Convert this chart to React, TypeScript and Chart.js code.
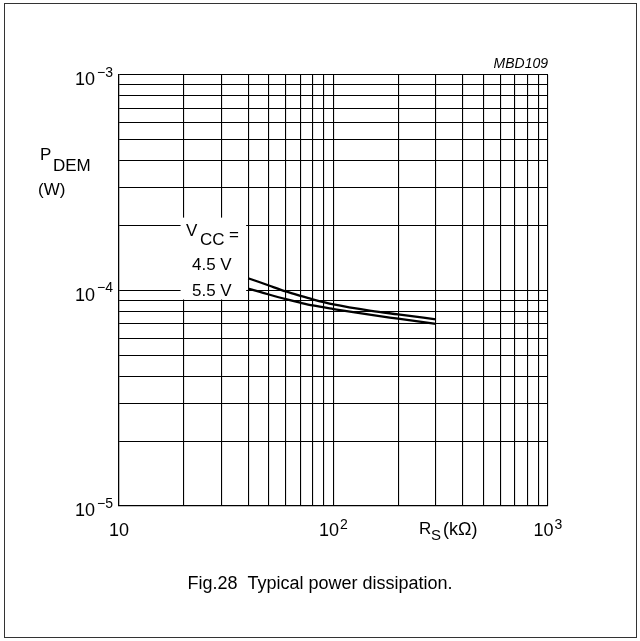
import React, { useEffect, useRef } from "react";
import { Chart, registerables } from "chart.js";

Chart.register(...registerables);

// Data
const rsValues = [40, 45, 50, 60, 70, 80, 100, 150, 200, 300]; // kΩ
const pdemVcc45 = [1.14e-4, 1.095e-4, 1.055e-4, 0.99e-4, 0.945e-4, 0.91e-4, 0.862e-4, 0.805e-4, 0.775e-4, 0.735e-4];
const pdemVcc55 = [1.02e-4, 0.987e-4, 0.958e-4, 0.912e-4, 0.878e-4, 0.852e-4, 0.82e-4, 0.77e-4, 0.74e-4, 0.7e-4];

const xGridTicks = [10, 20, 30, 40, 50, 60, 70, 80, 90, 100, 200, 300, 400, 500, 600, 700, 800, 900, 1000];
const yGridTicks = [
  1e-5, 2e-5, 3e-5, 4e-5, 5e-5, 6e-5, 7e-5, 8e-5, 9e-5,
  1e-4, 2e-4, 3e-4, 4e-4, 5e-4, 6e-4, 7e-4, 8e-4, 9e-4, 1e-3,
];
const xTickValues = [10, 100, 1000];
const xTickExponents = ["", "2", "3"];
const yTickValues = [1e-3, 1e-4, 1e-5];
const yTickExponents = ["\u22123", "\u22124", "\u22125"];

const FONT = '"Liberation Sans", Arial, Helvetica, sans-serif';

const labelPlugin = {
  id: "labels",
  beforeDatasetsDraw(chart: any) {
    const ctx = chart.ctx;
    const xs = chart.scales.x;
    const ys = chart.scales.y;
    // white box behind the V_CC legend labels
    const x20 = xs.getPixelForValue(20);
    const x40 = xs.getPixelForValue(40);
    const y2e4 = ys.getPixelForValue(2e-4);
    const y1e4 = ys.getPixelForValue(1e-4);
    ctx.save();
    ctx.fillStyle = "#fff";
    ctx.fillRect(x20 - 3, y2e4 - 8, x40 - 2 - (x20 - 3), y1e4 + 9 - (y2e4 - 8));
    ctx.restore();
  },
  afterDraw(chart: any) {
    const ctx = chart.ctx;
    const xs = chart.scales.x;
    const ys = chart.scales.y;
    ctx.save();
    ctx.fillStyle = "#000";
    ctx.textBaseline = "alphabetic";

    // y tick labels
    yTickValues.forEach((v, i) => {
      const py = ys.getPixelForValue(v);
      ctx.font = `18px ${FONT}`;
      ctx.textAlign = "right";
      ctx.fillText("10", 95, py + 10);
      ctx.font = `14px ${FONT}`;
      ctx.textAlign = "left";
      ctx.fillText(yTickExponents[i], 97, py + 1.5);
    });

    // x tick labels
    xTickValues.forEach((v, i) => {
      const px = xs.getPixelForValue(v);
      const exp = xTickExponents[i];
      ctx.font = `18px ${FONT}`;
      const wb = ctx.measureText("10").width;
      ctx.font = `14px ${FONT}`;
      const we = exp ? ctx.measureText(exp).width + 1 : 0;
      const start = px - (wb + we) / 2;
      ctx.textAlign = "left";
      ctx.font = `18px ${FONT}`;
      ctx.fillText("10", start, 536);
      if (exp) {
        ctx.font = `14px ${FONT}`;
        ctx.fillText(exp, start + wb + 1, 529);
      }
    });

    // x axis title R_S (kΩ)
    ctx.textAlign = "left";
    ctx.font = `17px ${FONT}`;
    ctx.fillText("R", 419, 534);
    ctx.font = `15px ${FONT}`;
    ctx.fillText("S", 431, 540);
    ctx.font = `18px ${FONT}`;
    ctx.fillText("(k\u03A9)", 443, 535);

    // y axis title P_DEM (W)
    ctx.font = `17px ${FONT}`;
    ctx.fillText("P", 40, 160);
    ctx.fillText("DEM", 53, 171);
    ctx.fillText("(W)", 38, 195);

    // V_CC legend
    ctx.font = `17px ${FONT}`;
    ctx.fillText("V", 186, 236);
    ctx.fillText("CC", 200, 245);
    ctx.fillText("=", 229, 240);
    ctx.fillText("4.5 V", 192, 270);
    ctx.fillText("5.5 V", 192, 296);

    // code label
    ctx.font = `italic 14px ${FONT}`;
    ctx.textAlign = "right";
    ctx.fillText("MBD109", xs.right, 68);

    // caption
    ctx.font = `18px ${FONT}`;
    ctx.textAlign = "center";
    ctx.fillText("Fig.28  Typical power dissipation.", 320, 589);
    ctx.restore();
  },
};

export default function App() {
  const canvasRef = useRef<HTMLCanvasElement | null>(null);

  useEffect(() => {
    document.body.style.margin = "0";
    const canvas = canvasRef.current;
    if (!canvas) return;
    const chart = new Chart(canvas, {
      type: "line",
      data: {
        datasets: [
          {
            label: "4.5 V",
            data: rsValues.map((x, i) => ({ x, y: pdemVcc45[i] })),
            borderColor: "#000",
            borderWidth: 2.3,
            pointRadius: 0,
            cubicInterpolationMode: "monotone",
            fill: false,
          },
          {
            label: "5.5 V",
            data: rsValues.map((x, i) => ({ x, y: pdemVcc55[i] })),
            borderColor: "#000",
            borderWidth: 2.3,
            pointRadius: 0,
            cubicInterpolationMode: "monotone",
            fill: false,
          },
        ],
      },
      options: {
        animation: false,
        responsive: false,
        devicePixelRatio: 1,
        layout: { padding: { left: 119, top: 75, right: 92, bottom: 135 } },
        plugins: { legend: { display: false }, tooltip: { enabled: false } },
        scales: {
          x: {
            type: "logarithmic",
            min: 10,
            max: 1000,
            afterBuildTicks: (axis: any) => {
              axis.ticks = xGridTicks.map((v) => ({ value: v }));
            },
            ticks: { display: false },
            grid: { color: "#000", lineWidth: 1.1, drawTicks: false },
            border: { color: "#000", width: 1.2 },
          },
          y: {
            type: "logarithmic",
            min: 1e-5,
            max: 1e-3,
            afterBuildTicks: (axis: any) => {
              axis.ticks = yGridTicks.map((v) => ({ value: v }));
            },
            ticks: { display: false },
            grid: { color: "#000", lineWidth: 1.1, drawTicks: false },
            border: { color: "#000", width: 1.2 },
          },
        },
      },
      plugins: [labelPlugin],
    } as any);
    return () => chart.destroy();
  }, []);

  return (
    <div style={{ position: "absolute", left: 0, top: 0, width: 640, height: 641, background: "#fff" }}>
      <div
        style={{
          position: "absolute",
          left: 4,
          top: 3,
          width: 631,
          height: 633,
          border: "1px solid #333",
        }}
      />
      <canvas ref={canvasRef} width={640} height={641} style={{ position: "absolute", left: 0, top: 0 }} />
    </div>
  );
}
